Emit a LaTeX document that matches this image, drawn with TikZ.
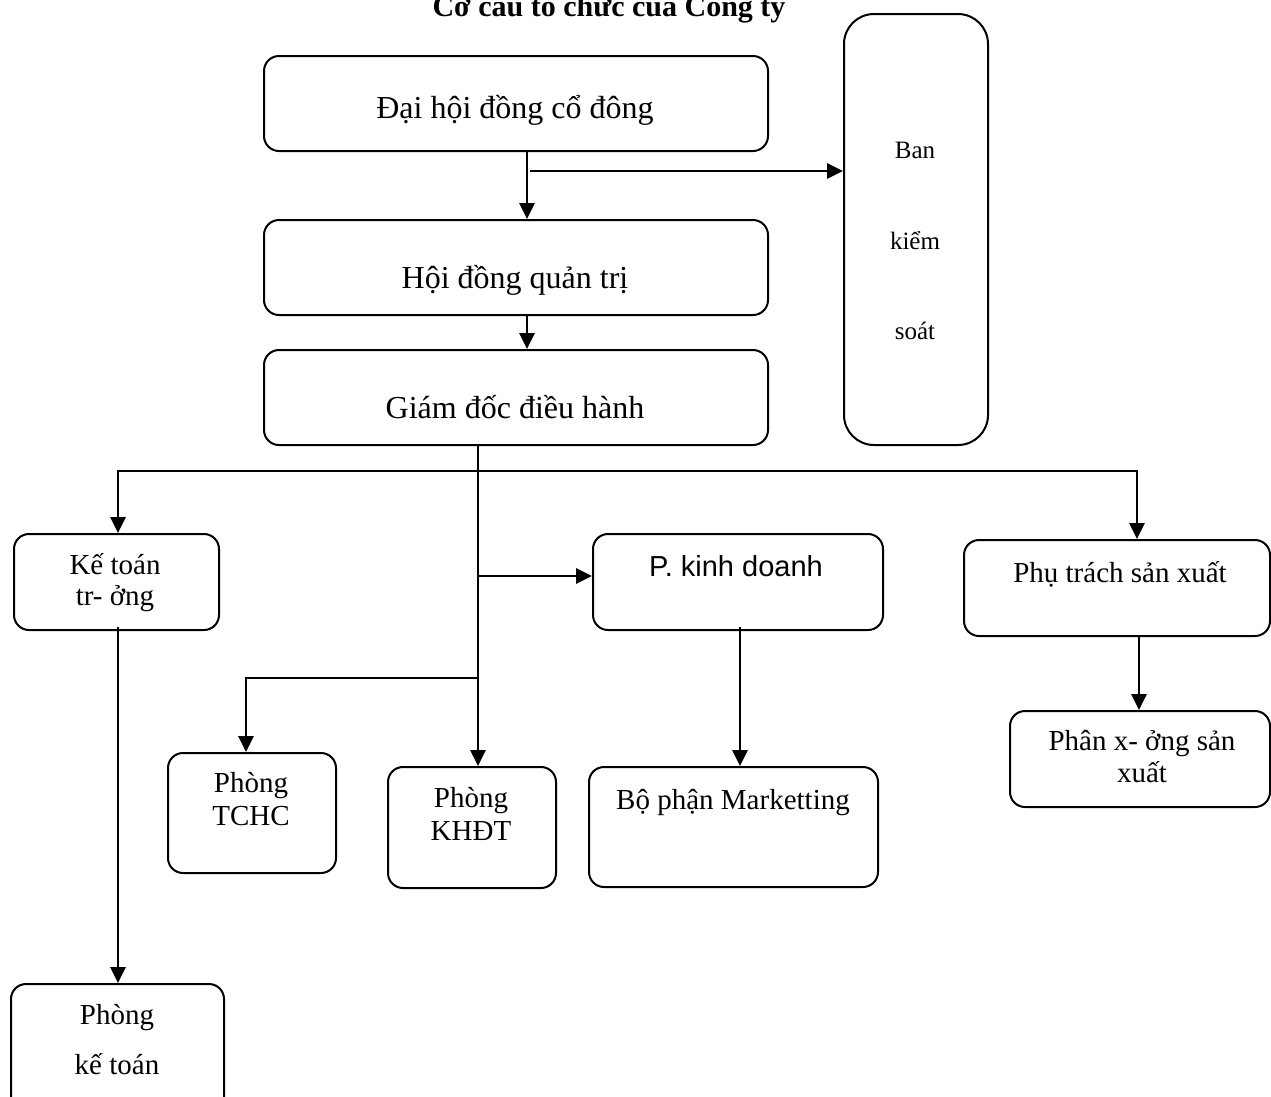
\documentclass[tikz,border=0pt]{standalone}
\usepackage{fontspec}
\setmainfont{Liberation Serif}
\setsansfont{Liberation Sans}
\usetikzlibrary{arrows.meta}
\begin{document}
\begin{tikzpicture}[x=1pt,y=-1pt,
  box/.style={draw, line width=2pt, rounded corners=15pt, anchor=north west, inner sep=0pt},
  arr/.style={line width=2.8pt, -{Triangle[length=16pt,width=15pt]}},
  arrr/.style={line width=2.8pt, {Triangle[length=16pt,width=15pt]}-{Triangle[length=16pt,width=15pt]}},
  big/.style={anchor=base, inner sep=0pt, font=\fontsize{32}{36}\selectfont},
  mid/.style={anchor=base, inner sep=0pt, font=\fontsize{29}{33}\selectfont},
  sml/.style={anchor=base, inner sep=0pt, font=\fontsize{25}{29}\selectfont}]
\useasboundingbox (0,0) rectangle (1271,1096);
% title
\node[anchor=base, inner sep=0pt, font=\fontsize{30}{34}\selectfont\bfseries] (title) at (609,16) {Cơ cấu tổ chức của Công ty};
% boxes
\node[box, minimum width=504pt, minimum height=95pt] (dhd) at (263,55) {};
\node[box, minimum width=504pt, minimum height=95pt] (hdqt) at (263,219) {};
\node[box, minimum width=504pt, minimum height=95pt] (gd) at (263,349) {};
\node[box, rounded corners=30pt, minimum width=144pt, minimum height=431pt] (bks) at (843,13) {};
\node[box, minimum width=205pt, minimum height=96pt] (ktt) at (13,533) {};
\node[box, minimum width=290pt, minimum height=96pt] (pkd) at (592,533) {};
\node[box, minimum width=306pt, minimum height=96pt] (pts) at (963,539) {};
\node[box, minimum width=260pt, minimum height=96pt] (pxsx) at (1009,710) {};
\node[box, minimum width=168pt, minimum height=120pt] (tchc) at (167,752) {};
\node[box, minimum width=168pt, minimum height=121pt] (khdt) at (387,766) {};
\node[box, minimum width=289pt, minimum height=120pt] (mkt) at (588,766) {};
\node[box, minimum width=213pt, minimum height=140pt] (pkt) at (10,983) {};
% texts
\node[big] (t1) at (515,118) {Đại hội đồng cổ đông};
\node[big] (t2) at (515,288) {Hội đồng quản trị};
\node[big] (t3) at (515,418) {Giám đốc điều hành};
\node[sml] (t4a) at (915,158) {Ban};
\node[sml] (t4b) at (915,249) {kiểm};
\node[sml] (t4c) at (915,339) {soát};
\node[mid] (t5a) at (115,574) {Kế toán};
\node[mid] (t5b) at (115,605) {tr- ởng};
\node[mid, font=\sffamily\fontsize{29}{33}\selectfont] (t6) at (736,576) {P. kinh doanh};
\node[mid] (t7) at (1120,582) {Phụ trách sản xuất};
\node[mid] (t8a) at (1142,750) {Phân x- ởng sản};
\node[mid] (t8b) at (1142,782) {xuất};
\node[mid] (t9a) at (251,792) {Phòng};
\node[mid] (t9b) at (251,825) {TCHC};
\node[mid] (t10a) at (471,807) {Phòng};
\node[mid] (t10b) at (471,840) {KHĐT};
\node[mid] (t11) at (733,809) {Bộ phận Marketting};
\node[mid] (t12a) at (117,1024) {Phòng};
\node[mid] (t12b) at (117,1074) {kế toán};
% connector coordinates
\coordinate (c527) at (527,0);
\coordinate (j0) at (530,171);
\coordinate (bus) at (478,471);
\coordinate (bl) at (118,471);
\coordinate (br) at (1137,471);
\coordinate (j1) at (478,576);
\coordinate (j2) at (478,678);
\coordinate (j2b) at (246,678);
\coordinate (c740) at (740,0);
\coordinate (c1139) at (1139,0);
% connectors
\draw[arr] (dhd.south -| c527) -- (hdqt.north -| c527);
\draw[arr] (j0) -- (bks.west |- j0);
\draw[arr] (hdqt.south -| c527) -- (gd.north -| c527);
\draw[arr] (gd.south -| bus) -- (khdt.north -| bus);
\draw[arrr] (ktt.north -| bl) -- (bl) -- (br) -- (pts.north -| br);
\draw[arr] (j1) -- (pkd.west |- j1);
\draw[arr] (j2) -- (j2b) -- (tchc.north -| j2b);
\draw[arr] ([yshift=4pt]ktt.south -| bl) -- (pkt.north -| bl);
\draw[arr] ([yshift=4pt]pkd.south -| c740) -- (mkt.north -| c740);
\draw[arr] (pts.south -| c1139) -- (pxsx.north -| c1139);
\end{tikzpicture}
\end{document}
